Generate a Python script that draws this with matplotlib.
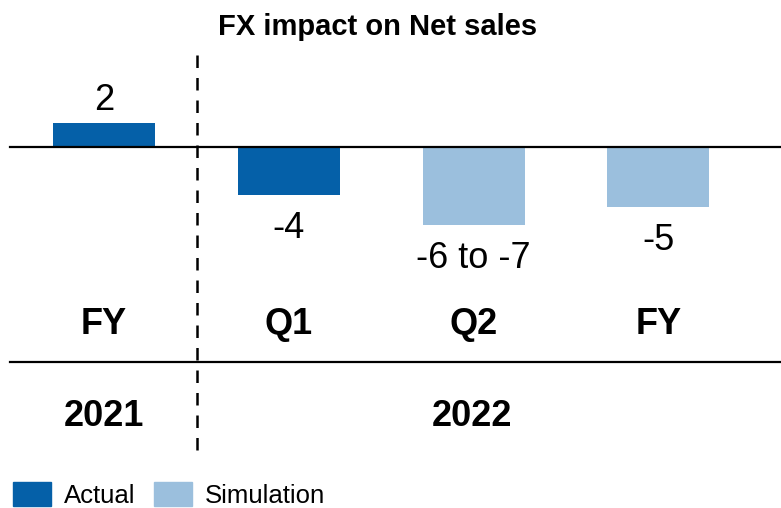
import matplotlib
matplotlib.use("Agg")
import matplotlib.pyplot as plt
import matplotlib.transforms as mtransforms
from matplotlib.patches import Patch

plt.rcParams['font.family'] = ['Liberation Sans', 'DejaVu Sans']

# data
periods = ["FY", "Q1", "Q2", "FY"]
years = ["2021", "2022"]
values = [2, -4, -6.5, -5]
value_labels = ["2", "-4", "-6 to -7", "-5"]
kinds = ["Actual", "Actual", "Simulation", "Simulation"]

colors = {"Actual": "#0560A8", "Simulation": "#9BBFDD"}

W, H = 781, 508
fig = plt.figure(figsize=(W / 100, H / 100), dpi=100)
ax = fig.add_axes([0, 0, 1, 1])
ax.axis("off")

# pixel layout -> data limits (bar spacing 184.8px, 12px per unit, zero at y=147px)
step = 184.8
x0 = 104
ax.set_xlim(-x0 / step, (W - x0) / step)
zero_from_bottom = H - 147
ax.set_ylim(-zero_from_bottom / 12, (H - zero_from_bottom) / 12)

xs = list(range(len(values)))
bars = ax.bar(xs, values, width=102 / step,
              color=[colors[k] for k in kinds], zorder=2)

ax.axhline(0, xmin=10 / W, xmax=1, color="black", lw=1.6, zorder=3)

for x, v, lab in zip(xs, values, value_labels):
    off = 22 if v > 0 else -34
    ax.annotate(lab, (x, v), xytext=(0, off * 0.72), textcoords="offset points",
                ha="center", va="center", fontsize=26)

# category and year labels
trans = mtransforms.blended_transform_factory(ax.transData, fig.transFigure)
for x, p in zip(xs, periods):
    ax.text(x, 1 - 324 / H, p, transform=trans, ha="center", va="center",
            fontsize=26, fontweight="bold")

ax.text(0, 1 - 416 / H, years[0], transform=trans, ha="center", va="center",
        fontsize=26, fontweight="bold")
ax.text(1.99, 1 - 416 / H, years[1], transform=trans, ha="center", va="center",
        fontsize=26, fontweight="bold")

# separator lines
fig.add_artist(plt.Line2D([10 / W, 1], [1 - 362 / H, 1 - 362 / H],
                          color="black", lw=1.6))
fig.add_artist(plt.Line2D([197 / W, 197 / W], [1 - 55 / H, 1 - 452 / H],
                          color="black", lw=1.8, ls=(0, (5, 4))))

fig.text(378 / W, 1 - 27 / H, "FX impact on Net sales", ha="center",
         va="center", fontsize=21, fontweight="bold")

handles = [Patch(color=colors["Actual"], label="Actual"),
           Patch(color=colors["Simulation"], label="Simulation")]
fs = 18.5
px = fs / 0.72
fig.legend(handles=handles, loc="lower left", bbox_to_anchor=(13 / W, 0.0),
           ncol=2, frameon=False, fontsize=fs, borderpad=0, borderaxespad=0,
           handlelength=38 / px, handleheight=27 / px, handletextpad=13 / px,
           columnspacing=18 / px)

fig.savefig("out.png", dpi=100)
